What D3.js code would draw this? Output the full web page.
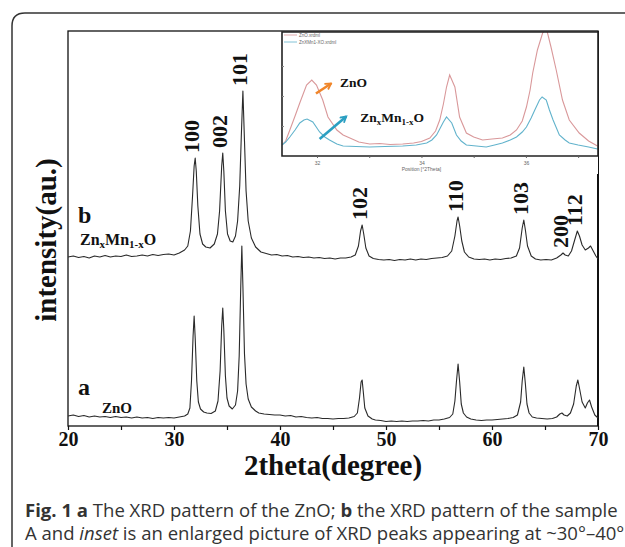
<!DOCTYPE html>
<html>
<head>
<meta charset="utf-8">
<script src="https://cdn.jsdelivr.net/npm/d3@7"></script>
<style>
  body { margin: 0; background: #fff; }
  svg { display: block; }
  .serif { font-family: "Liberation Serif", "Times New Roman", serif; font-weight: bold; fill: #111; }
  .caption { font-family: "Open Sans", "Noto Sans", sans-serif; fill: #333; }
  .tiny { font-family: "Liberation Sans", Arial, sans-serif; fill: #666; }
</style>
</head>
<body>
<div id="chartdiv"></div>
<script>
(function(){

  //pattern a : ZnO  [2theta, intensity]
  var patternA = [[20,10],[20.5,11],[21,9.5],[21.5,10.5],[22,9],[22.5,10],[23,9],[23.5,9.5],[24,8.5],[24.5,9.5],
    [25,8.5],[25.5,9],[26,8],[26.5,9],[27,8],[27.5,8.5],[28,7.5],[28.5,8.5],[29,8],[29.5,8.5],[30,8],[30.5,9],
    [31,10],[31.3,12],[31.5,18],[31.65,45],[31.8,90],[31.9,110],[32.0,88],[32.15,45],[32.3,24],[32.5,17],[32.8,14],
    [33.1,13],[33.5,12.5],[33.9,15],[34.15,25],[34.35,55],[34.5,100],[34.6,118],[34.7,96],[34.85,50],[35.0,28],
    [35.2,20],[35.5,17],[35.8,21],[36.0,35],[36.15,70],[36.3,140],[36.4,180],[36.5,140],[36.65,72],[36.8,42],
    [37.0,27],[37.3,19],[37.7,15],[38,13],[38.5,12],[39,11.5],[39.5,11],[40,11],[40.5,10],[41,10.5],[41.5,9],
    [42,9.5],[42.5,8.5],[43,8],[43.5,8.5],[44,7.5],[44.5,7.5],[45,7],[45.5,7.5],[46,7.5],[46.5,8],[47,9.5],
    [47.3,13],[47.5,28],[47.65,44],[47.75,46],[47.85,35],[48.0,18],[48.3,10],[48.7,7],[49,6],[49.5,5.5],[50,4.5],
    [50.5,5],[51,4.5],[51.5,5],[52,4.5],[52.5,5],[53,5],[53.5,5.5],[54,5],[54.5,6],[55,6],[55.5,7],[56,8.5],
    [56.3,12],[56.5,25],[56.65,45],[56.8,62],[56.95,44],[57.1,22],[57.3,13],[57.6,9],[58,7],[58.5,6],[59,5.5],
    [59.5,6],[60,6],[60.5,6.5],[61,7],[61.5,7.5],[62,8.5],[62.4,11],[62.7,24],[62.85,45],[63.0,59],[63.15,42],
    [63.3,22],[63.5,13],[63.8,9],[64.2,8],[64.7,7.5],[65.2,7],[65.7,7.5],[66.1,9],[66.4,12],[66.6,13],[66.8,11],
    [67.1,10],[67.4,13],[67.7,22],[67.95,40],[68.1,46],[68.25,38],[68.5,24],[68.8,18],[69.0,23],[69.2,26],
    [69.4,19],[69.7,11],[70,8]];

  //pattern b : ZnxMn1-xO
  var patternB = [[20,169],[20.5,170],[21,168.5],[21.5,169.5],[22,168],[22.5,170],[23,169],[23.5,170.5],[24,169],
    [24.5,170],[25,169.5],[25.5,171],[26,169.5],[26.5,170],[27,171],[27.5,170],[28,171.5],[28.5,170.5],[29,171.5],
    [29.5,172],[30,171],[30.5,173],[31,176],[31.3,180],[31.55,195],[31.75,230],[31.9,260],[32.0,268],[32.1,255],
    [32.25,220],[32.45,192],[32.7,182],[33.0,179],[33.4,178],[33.8,182],[34.1,192],[34.3,215],[34.5,260],[34.6,273],
    [34.7,255],[34.85,215],[35.05,192],[35.3,185],[35.55,184],[35.8,190],[36.0,205],[36.2,240],[36.35,290],
    [36.5,335],[36.65,285],[36.8,235],[37.0,205],[37.3,188],[37.7,179],[38.2,174],[38.7,172.5],[39.2,171],
    [39.7,171.5],[40.2,170],[40.7,170.5],[41.2,169],[41.7,169.5],[42.2,168.5],[42.7,169],[43.2,168],[43.7,168.5],
    [44.2,167.5],[44.7,168],[45.2,167],[45.7,168],[46.2,168],[46.7,169],[47.1,171],[47.4,180],[47.6,195],
    [47.75,201],[47.9,192],[48.1,178],[48.4,170],[48.8,167.5],[49.3,166.5],[49.8,166],[50.3,166.5],[50.8,165.5],
    [51.3,166.5],[51.8,166],[52.3,167],[52.8,166],[53.3,167],[53.8,166.5],[54.3,167.5],[54.8,168],[55.3,168.5],
    [55.8,170],[56.2,175],[56.5,190],[56.7,205],[56.8,209],[56.95,200],[57.15,185],[57.4,174],[57.8,169],
    [58.3,167],[58.8,166.5],[59.3,167],[59.8,166],[60.3,167],[60.8,166.5],[61.3,167.5],[61.8,168],[62.3,170],
    [62.6,178],[62.85,198],[63.0,206],[63.15,196],[63.35,180],[63.7,170],[64.1,167],[64.6,166],[65.1,166.5],
    [65.6,166],[66.1,168],[66.5,171],[66.7,173],[66.9,171],[67.2,170],[67.5,175],[67.8,186],[68.05,195],
    [68.25,190],[68.5,181],[68.8,176],[69.1,178],[69.3,180],[69.55,175],[69.8,170],[70,167]];

  //inset traces (enlarged 31-37 degrees)
  var insetZnO = [[31.33,11],[31.40,15],[31.48,26],[31.58,40],[31.67,53],[31.80,71],[31.90,76],[31.99,71],
    [32.11,56],[32.21,39],[32.38,26],[32.5,21],[32.63,18],[32.8,14],[33.01,12],[33.2,12.5],[33.4,11.5],[33.64,12],
    [33.85,13],[34.0,14.5],[34.16,18],[34.27,25],[34.35,36],[34.42,52],[34.48,69],[34.54,81],[34.64,69],[34.73,39],
    [34.86,23],[35.0,19],[35.17,16],[35.35,17],[35.55,18],[35.7,21],[35.82,26],[35.93,35],[36.01,49],[36.08,66],
    [36.13,83],[36.22,106],[36.32,123],[36.39,128],[36.48,109],[36.58,86],[36.70,56],[36.83,36],[37.02,23],
    [37.2,15],[37.37,10]];
  var insetZnMn = [[31.33,11],[31.40,14],[31.48,19],[31.58,26],[31.67,33],[31.75,36],[31.81,37],[31.92,34],
    [32.05,24],[32.15,19],[32.24,16],[32.38,12],[32.5,10],[32.75,9.5],[33.01,9],[33.3,9.5],[33.64,10],[33.9,11],
    [34.1,13],[34.2,16],[34.29,21],[34.36,28],[34.42,34],[34.48,39],[34.58,33],[34.67,21],[34.76,15],[34.86,11],
    [35.05,10],[35.24,9],[35.4,11],[35.55,13],[35.7,16],[35.82,19],[35.93,24],[36.01,29],[36.1,38],[36.17,46],
    [36.26,56],[36.31,59],[36.39,56],[36.45,46],[36.52,36],[36.64,21],[36.75,16],[36.83,13],[37.0,11],[37.2,9],
    [37.37,7]];

  //peak indexing (hkl) for pattern b
  var peakLabels = ["100","002","101","102","110","103","200","112"];
  var peakTheta = [31.95, 34.6, 36.5, 47.75, 56.8, 63.0, 66.7, 68.1];
  var peakTop = [268, 273, 335, 201, 209, 206, 173, 195];

  var xTicks = [20,25,30,35,40,45,50,55,60,65,70];
  var insetTicks = [32,33,34,35,36,37];
  var insetTickLabels = [32,34,36];
  var legendNames = ["ZnO.xrdml", "ZnXMn1-XO.xrdml"];
  var legendColors = ["#d9989a", "#62b3cc"];

  setChart();

  function setChart(){
    var width = 625, height = 547;
    var plot = {left: 68, top: 31, right: 598, bottom: 426};

    var svg = d3.select("#chartdiv")
        .append("svg")
        .attr("width", width)
        .attr("height", height);

    //rounded frame round the figure + caption
    svg.append("path")
        .attr("d", "M12,570 L12,26 Q12,13 25,13 L640,13")
        .attr("fill", "none")
        .attr("stroke", "#333")
        .attr("stroke-width", 1.5);

    var x = d3.scaleLinear().domain([20, 70]).range([plot.left, plot.right]);
    var y = d3.scaleLinear().domain([0, 395]).range([plot.bottom, plot.top]);

    var line = d3.line()
        .x(function(d){ return x(d[0]); })
        .y(function(d){ return y(d[1]); });

    //plot frame
    svg.append("rect")
        .attr("x", plot.left)
        .attr("y", plot.top)
        .attr("width", plot.right - plot.left)
        .attr("height", plot.bottom - plot.top)
        .attr("fill", "none")
        .attr("stroke", "#111")
        .attr("stroke-width", 1.3);
    svg.append("line")  //right edge is drawn heavier in the figure
        .attr("x1", plot.right).attr("x2", plot.right)
        .attr("y1", plot.top).attr("y2", plot.bottom)
        .attr("stroke", "#111").attr("stroke-width", 2);

    //x axis, ticks every 5, labels every 10
    var xAxis = svg.append("g")
        .attr("transform", "translate(0," + plot.bottom + ")")
        .call(d3.axisBottom(x)
            .tickValues(xTicks)
            .tickSize(4)
            .tickPadding(2)
            .tickFormat(function(d){ return d % 10 === 0 ? d : ""; }));
    xAxis.select(".domain").remove();
    xAxis.selectAll("line").attr("stroke", "#111").attr("stroke-width", 1.2);
    xAxis.selectAll("text")
        .attr("class", "serif")
        .style("font-size", "20px");

    svg.append("text")
        .attr("class", "serif")
        .attr("x", (plot.left + plot.right) / 2)
        .attr("y", 475)
        .attr("text-anchor", "middle")
        .style("font-size", "29px")
        .text("2theta(degree)");

    svg.append("text")
        .attr("class", "serif")
        .attr("transform", "translate(56,240) rotate(-90)")
        .attr("text-anchor", "middle")
        .style("font-size", "29px")
        .text("intensity(au.)");

    //the two patterns
    [patternA, patternB].forEach(function(p){
      svg.append("path")
          .datum(p)
          .attr("d", line)
          .attr("fill", "none")
          .attr("stroke", "#2a2a2a")
          .attr("stroke-width", 1.1)
          .attr("stroke-linejoin", "round");
    });

    //hkl labels above pattern b
    svg.selectAll(".hkl")
        .data(peakLabels)
        .enter()
        .append("text")
        .attr("class", "serif hkl")
        .attr("transform", function(d, i){
            return "translate(" + (x(peakTheta[i]) - 3) + "," + (y(peakTop[i]) - 5) + ") rotate(-90)";
        })
        .attr("dy", "0.34em")
        .style("font-size", "22px")
        .text(function(d){ return d; });

    //series labels
    svg.append("text").attr("class", "serif")
        .attr("x", 78).attr("y", y(patternB[0][1]) - 34)
        .style("font-size", "24px").text("b");
    formula(svg.append("text").attr("class", "serif")
        .attr("x", 80).attr("y", y(patternB[0][1]) - 12)
        .style("font-size", "16px"), 11, 3);

    svg.append("text").attr("class", "serif")
        .attr("x", 78).attr("y", y(patternA[0][1]) - 21)
        .style("font-size", "24px").text("a");
    svg.append("text").attr("class", "serif")
        .attr("x", 102).attr("y", y(patternA[0][1]) - 3)
        .style("font-size", "15px").text("ZnO");

    setInset(svg, plot);
    setCaption(svg);
  };

  //ZnxMn1-xO with subscripts
  function formula(t, subSize, shift){
    t.append("tspan").text("Zn");
    t.append("tspan").attr("dy", shift).style("font-size", subSize + "px").text("x");
    t.append("tspan").attr("dy", -shift).text("Mn");
    t.append("tspan").attr("dy", shift).style("font-size", subSize + "px").text("1-x");
    t.append("tspan").attr("dy", -shift).text("O");
  };

  function setInset(svg, plot){
    var box = {left: 282, top: plot.top + 1, right: plot.right, bottom: 156};

    svg.append("rect")
        .attr("x", box.left).attr("y", box.top)
        .attr("width", box.right - box.left).attr("height", 174 - box.top)
        .attr("fill", "#fff");

    var ix = d3.scaleLinear().domain([31.33, 37.38]).range([box.left, box.right]);
    var iy = d3.scaleLinear().domain([0, 124]).range([box.bottom, box.top]);

    svg.append("clipPath").attr("id", "insetClip")
      .append("rect")
        .attr("x", box.left).attr("y", box.top)
        .attr("width", box.right - box.left).attr("height", box.bottom - box.top);

    var iline = d3.line()
        .x(function(d){ return ix(d[0]); })
        .y(function(d){ return iy(d[1]); });

    var traces = svg.append("g").attr("clip-path", "url(#insetClip)");
    [insetZnO, insetZnMn].forEach(function(p, i){
      traces.append("path")
          .datum(p)
          .attr("d", iline)
          .attr("fill", "none")
          .attr("stroke", legendColors[i])
          .attr("stroke-width", 1.1);
    });

    //inset frame
    svg.append("path")
        .attr("d", "M" + box.left + "," + box.bottom + "V" + box.top + "H" + box.right + "V" + box.bottom + "Z")
        .attr("fill", "none")
        .attr("stroke", "#222")
        .attr("stroke-width", 1.6);

    var ia = svg.append("g")
        .attr("transform", "translate(0," + box.bottom + ")")
        .call(d3.axisBottom(ix).tickValues(insetTicks).tickSize(2).tickPadding(3)
            .tickFormat(function(d){ return insetTickLabels.indexOf(d) >= 0 ? d : ""; }));
    ia.select(".domain").remove();
    ia.selectAll("line").attr("stroke", "#666");
    ia.selectAll("text").attr("class", "tiny").style("font-size", "5px");

    var iyAxis = svg.append("g")
        .attr("transform", "translate(" + box.left + ",0)")
        .call(d3.axisRight(iy).tickValues([30, 60, 90]).tickSize(2).tickFormat(""));
    iyAxis.select(".domain").remove();
    iyAxis.selectAll("line").attr("stroke", "#888");

    svg.append("text").attr("class", "tiny")
        .attr("x", ix(34)).attr("y", 171)
        .attr("text-anchor", "middle")
        .style("font-size", "5px")
        .text("Position [\u00b02Theta]");

    //legend
    legendNames.forEach(function(name, i){
      var ly = box.top + 3 + i * 7;
      svg.append("line")
          .attr("x1", box.left + 2).attr("x2", box.left + 15)
          .attr("y1", ly).attr("y2", ly)
          .attr("stroke", legendColors[i]).attr("stroke-width", 0.8);
      svg.append("text").attr("class", "tiny")
          .attr("x", box.left + 17).attr("y", ly + 1.6)
          .style("font-size", "4.5px")
          .text(name);
    });

    //arrow annotations
    var defs = svg.append("defs");
    [["orangeHead", "#f0862a"], ["blueHead", "#2b9fc2"]].forEach(function(m){
      defs.append("marker")
          .attr("id", m[0])
          .attr("viewBox", "0 0 10 10")
          .attr("refX", 8).attr("refY", 5)
          .attr("markerWidth", 3.2).attr("markerHeight", 3.2)
          .attr("orient", "auto")
        .append("path")
          .attr("d", "M1,1 L8,5 L1,9")
          .attr("fill", "none")
          .attr("stroke", m[1])
          .attr("stroke-width", 2.2);
    });

    svg.append("line")
        .attr("x1", ix(31.98)).attr("y1", iy(62.5))
        .attr("x2", ix(32.27)).attr("y2", iy(72.5))
        .attr("stroke", "#f0862a").attr("stroke-width", 2.6)
        .attr("marker-end", "url(#orangeHead)");
    svg.append("text").attr("class", "serif")
        .attr("x", ix(32.44)).attr("y", iy(69))
        .style("font-size", "13.5px")
        .text("ZnO");

    svg.append("line")
        .attr("x1", ix(32.05)).attr("y1", iy(17))
        .attr("x2", ix(32.56)).attr("y2", iy(39.5))
        .attr("stroke", "#2b9fc2").attr("stroke-width", 2.6)
        .attr("marker-end", "url(#blueHead)");
    formula(svg.append("text").attr("class", "serif")
        .attr("x", ix(32.83)).attr("y", iy(34.5))
        .style("font-size", "13.5px"), 9, 3);
  };

  function setCaption(svg){
    var line1 = svg.append("text").attr("class", "caption")
        .attr("x", 25).attr("y", 517);
    line1.append("tspan").style("font-weight", "bold").text("Fig. 1 a");
    line1.append("tspan").text(" The XRD pattern of the ZnO; ");
    line1.append("tspan").style("font-weight", "bold").text("b");
    line1.append("tspan").text(" the XRD pattern of the sample");

    var line2 = svg.append("text").attr("class", "caption")
        .attr("x", 25).attr("y", 540);
    line2.append("tspan").text("A and ");
    line2.append("tspan").style("font-style", "italic").text("inset");
    line2.append("tspan").text(" is an enlarged picture of XRD peaks appearing at ~30\u00b0\u201340\u00b0");

    //fit the caption to the width it has in the figure
    var size = 16;
    line1.style("font-size", size + "px");
    line2.style("font-size", size + "px");
    var w = line1.node().getComputedTextLength();
    size = size * 593 / w;
    line1.style("font-size", size + "px");
    line2.style("font-size", size + "px");
  };

})();
</script>
</body>
</html>
